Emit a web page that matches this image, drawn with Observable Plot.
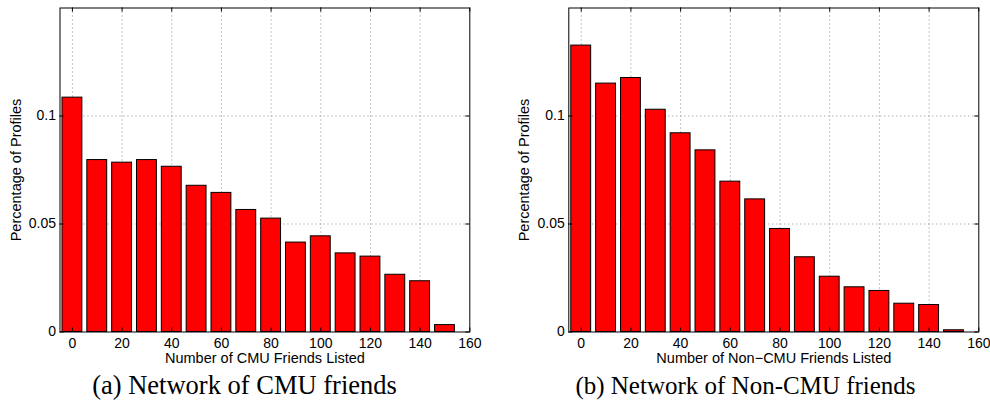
<!DOCTYPE html>
<html>
<head>
<meta charset="utf-8">
<script src="https://cdn.jsdelivr.net/npm/d3@7"></script>
<script src="https://cdn.jsdelivr.net/npm/@observablehq/plot@0.6"></script>
<style>
  html, body { margin: 0; padding: 0; background: #fff; }
  #wrap { position: relative; width: 990px; height: 400px; overflow: hidden; }
  .panel { position: absolute; top: 0; width: 495px; height: 400px; }
  .panel svg { display: block; }
  .caption { position: absolute; left: 0; width: 495px; text-align: center;
    font-family: "Liberation Serif", "Times New Roman", serif; color: #000; white-space: nowrap; }
</style>
</head>
<body>
<div id="wrap">
  <div class="panel" id="pa" style="left:0px"><div class="caption" style="top:372.2px;font-size:26.5px;line-height:26px;left:-3px">(a) Network of CMU friends</div></div>
  <div class="panel" id="pb" style="left:495px"><div class="caption" style="top:373.1px;font-size:25px;line-height:25px;left:3px">(b) Network of Non-CMU friends</div></div>
</div>
<script>
// ---- data ----
const bins = [0, 10, 20, 30, 40, 50, 60, 70, 80, 90, 100, 110, 120, 130, 140, 150];
const cmuShare = [0.1085, 0.0796, 0.0784, 0.0796, 0.0765, 0.0677, 0.0644, 0.0565, 0.0525, 0.0414, 0.0443, 0.0364, 0.0349, 0.0265, 0.0235, 0.0032];
const nonCmuShare = [0.1326, 0.1150, 0.1176, 0.1029, 0.0920, 0.0841, 0.0696, 0.0614, 0.0477, 0.0346, 0.0256, 0.0207, 0.0190, 0.0131, 0.0125, 0.0008];
const xTicks = [0, 20, 40, 60, 80, 100, 120, 140, 160];
const yTicks = [0, 0.05, 0.1];
const xDomain = [-5, 160];
const yDomain = [0, 0.15];
const yLabel = "Percentage of Profiles";
const xLabelA = "Number of CMU Friends Listed";
const xLabelB = "Number of Non\u2212CMU Friends Listed";

const barHalf = 4; // MATLAB default bar width 0.8 of a 10-unit bin

function panel(values, xLabel, marginLeft, marginRight, yLabelDx) {
  const W = 495, H = 372, mt = 7.5, mb = 40.5;
  const innerH = H - mt - mb;
  const innerW = W - marginLeft - marginRight;
  const data = bins.map((b, i) => ({bin: b, share: values[i]}));
  const fmt = d => d === 0 ? "0" : String(d);
  const gridX = xTicks.filter(t => t > xDomain[0] && t < xDomain[1]);
  const gridY = yTicks.filter(t => t > yDomain[0] && t < yDomain[1]);
  return Plot.plot({
    width: W, height: H,
    marginLeft, marginRight, marginTop: mt, marginBottom: mb,
    x: {domain: xDomain, axis: null},
    y: {domain: yDomain, axis: null},
    style: {fontFamily: "'Liberation Sans', Arial, Helvetica, sans-serif", fontSize: "14px", color: "#000", background: "#fff", overflow: "visible"},
    marks: [
      Plot.ruleX(gridX, {x: d => d, stroke: "#8a8a8a", strokeWidth: 1, strokeDasharray: "1,3"}),
      Plot.ruleY(gridY, {y: d => d, stroke: "#8a8a8a", strokeWidth: 1, strokeDasharray: "1,3"}),
      Plot.rectY(data, {x1: d => d.bin - barHalf, x2: d => d.bin + barHalf, y: "share", fill: "#ff0000", stroke: "#000", strokeWidth: 1}),
      // inward tick marks on all four sides
      Plot.ruleX(xTicks, {x: d => d, insetTop: innerH - 4, stroke: "#000"}),
      Plot.ruleX(xTicks, {x: d => d, insetBottom: innerH - 4, stroke: "#000"}),
      Plot.ruleY(yTicks, {y: d => d, insetRight: innerW - 4, stroke: "#000"}),
      Plot.ruleY(yTicks, {y: d => d, insetLeft: innerW - 4, stroke: "#000"}),
      Plot.frame({stroke: "#000", strokeWidth: 1}),
      // tick labels
      Plot.text(xTicks, {x: d => d, frameAnchor: "bottom", dy: 12, text: d => String(d), textAnchor: "middle", lineAnchor: "middle", fill: "#000"}),
      Plot.text(yTicks, {y: d => d, frameAnchor: "left", dx: -4, textAnchor: "end", text: fmt, lineAnchor: "middle", fill: "#000"}),
      // axis titles
      Plot.text([xLabel], {frameAnchor: "bottom", dy: 26.5, text: d => d, textAnchor: "middle", lineAnchor: "middle", fontSize: 14.5, fill: "#000"}),
      Plot.text([yLabel], {frameAnchor: "left", dx: yLabelDx, rotate: -90, text: d => d, textAnchor: "middle", lineAnchor: "middle", fontSize: 14.5, fill: "#000"})
    ]
  });
}

document.getElementById("pa").prepend(panel(cmuShare, xLabelA, 59.5, 25.7, -43.7));
document.getElementById("pb").prepend(panel(nonCmuShare, xLabelB, 73.3, 11.7, -44.3));
</script>
</body>
</html>
